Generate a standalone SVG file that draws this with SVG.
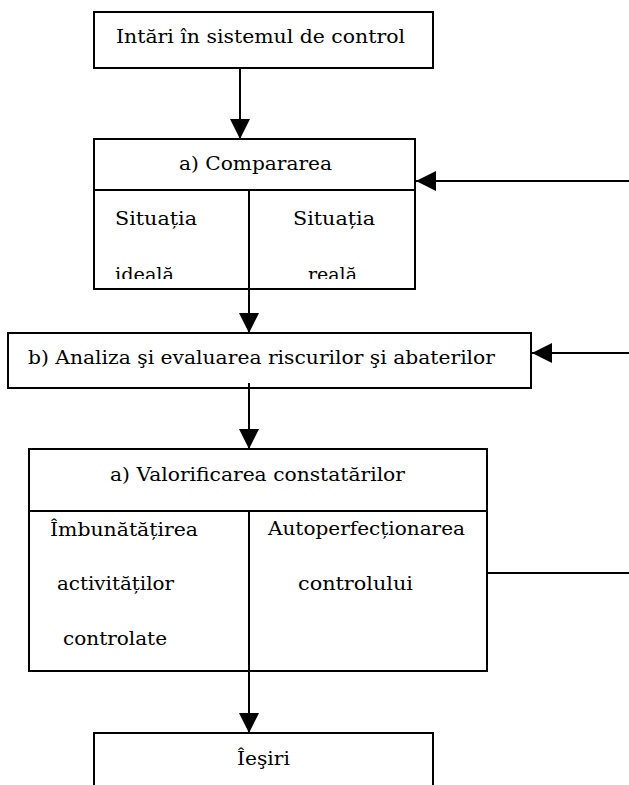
<svg xmlns="http://www.w3.org/2000/svg" width="629" height="785" viewBox="0 0 629 785">
  <style>
    .box { fill: #ffffff; stroke: #000000; stroke-width: 2; }
    .div { stroke: #000000; stroke-width: 2; fill: none; }
    .conn { stroke: #000000; stroke-width: 2; fill: none; }
    .arr { marker-end: url(#ah); }
    text { font-family: "DejaVu Serif", "Liberation Serif", serif; font-size: 19px; fill: #000000; }
  </style>
  <defs>
    <marker id="ah" markerUnits="userSpaceOnUse" markerWidth="21" markerHeight="21" refX="20" refY="10" orient="auto" viewBox="0 0 21 21">
      <path d="M0,0 L20,10 L0,20 z" fill="#000000"/>
    </marker>
    <clipPath id="clipCmp">
      <rect x="95" y="191" width="319" height="88"/>
    </clipPath>
  </defs>
  <rect width="629" height="785" fill="#ffffff"/>

  <g id="node-intrari">
    <rect class="box" x="94" y="12" width="339" height="56"/>
    <text x="116" y="43" textLength="289" lengthAdjust="spacingAndGlyphs">Intări în sistemul de control</text>
  </g>

  <g id="node-compararea">
    <rect class="box" x="94" y="139" width="321" height="150"/>
    <line class="div" x1="94" y1="190" x2="415" y2="190"/>
    <text x="179" y="170" textLength="153" lengthAdjust="spacingAndGlyphs">a) Compararea</text>
    <text x="115" y="225" textLength="82" lengthAdjust="spacingAndGlyphs">Situația</text>
    <text x="293" y="225" textLength="82" lengthAdjust="spacingAndGlyphs">Situația</text>
    <g clip-path="url(#clipCmp)">
      <text x="115" y="281" textLength="59" lengthAdjust="spacingAndGlyphs">ideală</text>
      <text x="308" y="281" textLength="49" lengthAdjust="spacingAndGlyphs">reală</text>
    </g>
  </g>

  <g id="node-analiza">
    <rect class="box" x="8" y="333" width="523" height="55"/>
    <text x="28" y="364" textLength="467" lengthAdjust="spacingAndGlyphs">b) Analiza şi evaluarea riscurilor şi abaterilor</text>
  </g>

  <g id="node-valorificarea">
    <rect class="box" x="29" y="449" width="458" height="222"/>
    <line class="div" x1="29" y1="511" x2="487" y2="511"/>
    <text x="110" y="481" textLength="295" lengthAdjust="spacingAndGlyphs">a) Valorificarea constatărilor</text>
    <text x="50" y="536" textLength="148" lengthAdjust="spacingAndGlyphs">Îmbunătățirea</text>
    <text x="57" y="590" textLength="117" lengthAdjust="spacingAndGlyphs">activităților</text>
    <text x="63" y="645" textLength="104" lengthAdjust="spacingAndGlyphs">controlate</text>
    <text x="268" y="535" textLength="197" lengthAdjust="spacingAndGlyphs">Autoperfecționarea</text>
    <text x="298" y="590" textLength="115" lengthAdjust="spacingAndGlyphs">controlului</text>
  </g>

  <g id="node-iesiri">
    <path class="box" d="M94,795 L94,733 L433,733 L433,795"/>
    <text x="237" y="765" textLength="53" lengthAdjust="spacingAndGlyphs">Îeşiri</text>
  </g>

  <g id="connectors">
    <line class="conn arr" x1="240" y1="68" x2="240" y2="139"/>
    <line class="conn arr" x1="249" y1="190" x2="249" y2="333"/>
    <line class="conn arr" x1="249" y1="383" x2="249" y2="449"/>
    <line class="conn arr" x1="249" y1="511" x2="249" y2="733"/>
    <line class="conn arr" x1="629" y1="181" x2="416" y2="181"/>
    <line class="conn arr" x1="629" y1="353" x2="532" y2="353"/>
    <line class="conn" x1="487" y1="573" x2="629" y2="573"/>
  </g>
</svg>
